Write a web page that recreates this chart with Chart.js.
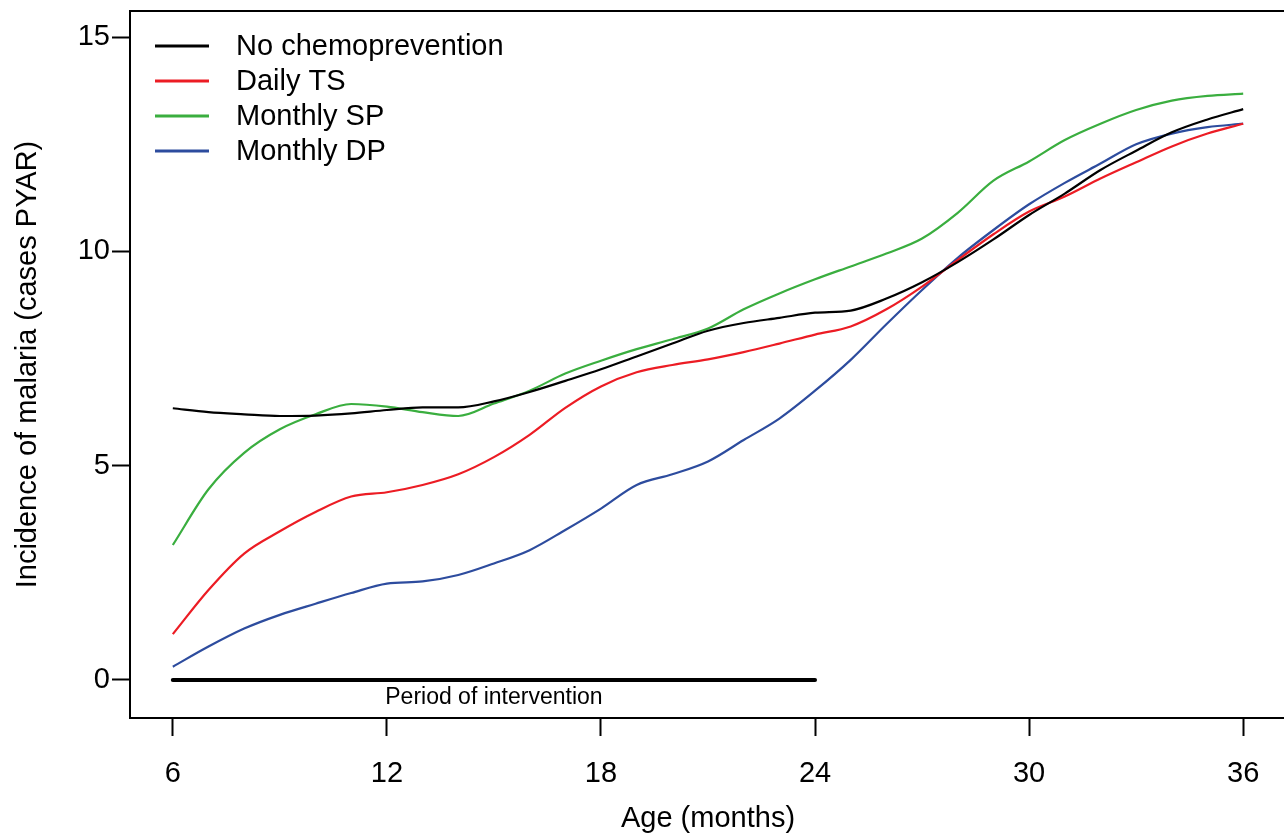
<!DOCTYPE html>
<html>
<head>
<meta charset="utf-8">
<script src="https://cdn.jsdelivr.net/npm/chart.js@4.4.1/dist/chart.umd.min.js"></script>
<style>
  html, body { margin: 0; padding: 0; background: #fff; overflow: hidden; }
  #chart { display: block; }
</style>
</head>
<body>
<canvas id="chart" width="1286" height="840"></canvas>
<script>
// age in months
const ages = [6, 7, 8, 9, 10, 11, 12, 13, 14, 15, 16, 17, 18, 19, 20, 21,
              22, 23, 24, 25, 26, 27, 28, 29, 30, 31, 32, 33, 34, 35, 36];

// incidence (cases PYAR)
const noChemo = [6.34, 6.25, 6.2, 6.16, 6.17, 6.22, 6.3, 6.36, 6.36, 6.5, 6.72,
                 6.98, 7.25, 7.55, 7.85, 8.15, 8.33, 8.45, 8.57, 8.62, 8.9,
                 9.28, 9.75, 10.28, 10.85, 11.35, 11.9, 12.35, 12.78, 13.08, 13.32];
const dailyTS = [1.07, 2.1, 2.95, 3.47, 3.92, 4.28, 4.38, 4.55, 4.8, 5.2, 5.72,
                 6.35, 6.85, 7.18, 7.35, 7.48, 7.65, 7.85, 8.06, 8.25, 8.65,
                 9.18, 9.8, 10.4, 10.93, 11.28, 11.7, 12.08, 12.45, 12.75, 12.98];
const monthlySP = [3.15, 4.45, 5.3, 5.85, 6.2, 6.44, 6.38, 6.25, 6.16, 6.45, 6.75,
                   7.15, 7.45, 7.72, 7.95, 8.2, 8.65, 9.02, 9.35, 9.65, 9.95,
                   10.3, 10.9, 11.65, 12.1, 12.6, 12.98, 13.3, 13.52, 13.63, 13.68];
const monthlyDP = [0.31, 0.78, 1.2, 1.52, 1.78, 2.03, 2.25, 2.3, 2.45, 2.72, 3.03,
                   3.5, 4.0, 4.55, 4.8, 5.1, 5.6, 6.1, 6.75, 7.47, 8.3,
                   9.1, 9.85, 10.5, 11.1, 11.6, 12.05, 12.5, 12.75, 12.9, 12.98];

const interventionAges = [6, 24];
const interventionLevel = [0, 0];
const interventionLabel = 'Period of intervention';
const interventionLabelAge = 15;

const xTicks = [6, 12, 18, 24, 30, 36];
const yTicks = [0, 5, 10, 15];

const family = "'Liberation Sans', Arial, sans-serif";

function pts(xs, ys) {
  return xs.map((x, i) => ({ x: x, y: ys[i] }));
}

function series(label, values, color) {
  return {
    label: label,
    data: pts(ages, values),
    borderColor: color,
    borderWidth: 2.2,
    pointRadius: 0,
    fill: false,
    cubicInterpolationMode: 'monotone'
  };
}

const framePlugin = {
  id: 'frame',
  afterDraw(chart) {
    const { ctx, chartArea: a } = chart;
    ctx.save();
    ctx.strokeStyle = '#000';
    ctx.lineWidth = 2;
    ctx.strokeRect(a.left, a.top, a.right - a.left, a.bottom - a.top);
    ctx.restore();
  }
};

const legendPlugin = {
  id: 'insideLegend',
  afterDraw(chart) {
    const { ctx, chartArea: a } = chart;
    ctx.save();
    ctx.font = '29px ' + family;
    ctx.textBaseline = 'middle';
    ctx.textAlign = 'left';
    chart.data.datasets.filter(d => !d.noLegend).forEach((d, i) => {
      const y = a.top + 35 + i * 35;
      ctx.strokeStyle = d.borderColor;
      ctx.lineWidth = 3;
      ctx.beginPath();
      ctx.moveTo(a.left + 25, y);
      ctx.lineTo(a.left + 79, y);
      ctx.stroke();
      ctx.fillStyle = '#000';
      ctx.fillText(d.label, a.left + 106, y + 1);
    });
    ctx.restore();
  }
};

const periodPlugin = {
  id: 'periodLabel',
  afterDatasetsDraw(chart) {
    const { ctx, scales } = chart;
    ctx.save();
    ctx.font = '23px ' + family;
    ctx.fillStyle = '#000';
    ctx.textAlign = 'center';
    ctx.textBaseline = 'middle';
    ctx.fillText(interventionLabel,
      scales.x.getPixelForValue(interventionLabelAge),
      scales.y.getPixelForValue(0) + 18);
    ctx.restore();
  }
};

new Chart(document.getElementById('chart').getContext('2d'), {
  type: 'line',
  data: {
    datasets: [
      series('No chemoprevention', noChemo, '#000000'),
      series('Daily TS', dailyTS, '#ec1c24'),
      series('Monthly SP', monthlySP, '#3aae3f'),
      series('Monthly DP', monthlyDP, '#2d4c9e'),
      {
        label: interventionLabel,
        noLegend: true,
        data: pts(interventionAges, interventionLevel),
        borderColor: '#000',
        borderWidth: 4,
        borderCapStyle: 'round',
        pointRadius: 0,
        fill: false
      }
    ]
  },
  options: {
    responsive: false,
    devicePixelRatio: 1,
    animation: false,
    layout: { padding: { top: 11, left: 0, right: 0, bottom: 0 } },
    plugins: {
      legend: { display: false },
      tooltip: { enabled: false }
    },
    scales: {
      x: {
        type: 'linear',
        min: 4.8,
        max: 37.2,
        afterBuildTicks: s => { s.ticks = xTicks.map(v => ({ value: v })); },
        afterFit: s => { s.height = 122; s.paddingLeft = 0; s.paddingRight = 0; },
        grid: { drawOnChartArea: false, drawTicks: true, tickLength: 18, tickWidth: 2, tickColor: '#000' },
        border: { display: false },
        ticks: { color: '#000', font: { size: 29, family: family }, padding: 21, autoSkip: false, maxRotation: 0 },
        title: { display: true, text: 'Age (months)', color: '#000', font: { size: 29, family: family }, padding: { top: 0, bottom: 4 } }
      },
      y: {
        type: 'linear',
        min: -0.887,
        max: 15.61,
        afterBuildTicks: s => { s.ticks = yTicks.map(v => ({ value: v })); },
        afterFit: s => { s.width = 130; s.paddingTop = 0; s.paddingBottom = 0; },
        grid: { drawOnChartArea: false, drawTicks: true, tickLength: 18, tickWidth: 2, tickColor: '#000' },
        border: { display: false },
        ticks: { color: '#000', font: { size: 29, family: family }, padding: 2, autoSkip: false },
        title: { display: true, text: 'Incidence of malaria (cases PYAR)', color: '#000', font: { size: 29, family: family }, padding: { top: 11, bottom: 0 } }
      }
    }
  },
  plugins: [framePlugin, legendPlugin, periodPlugin]
});
</script>
</body>
</html>
